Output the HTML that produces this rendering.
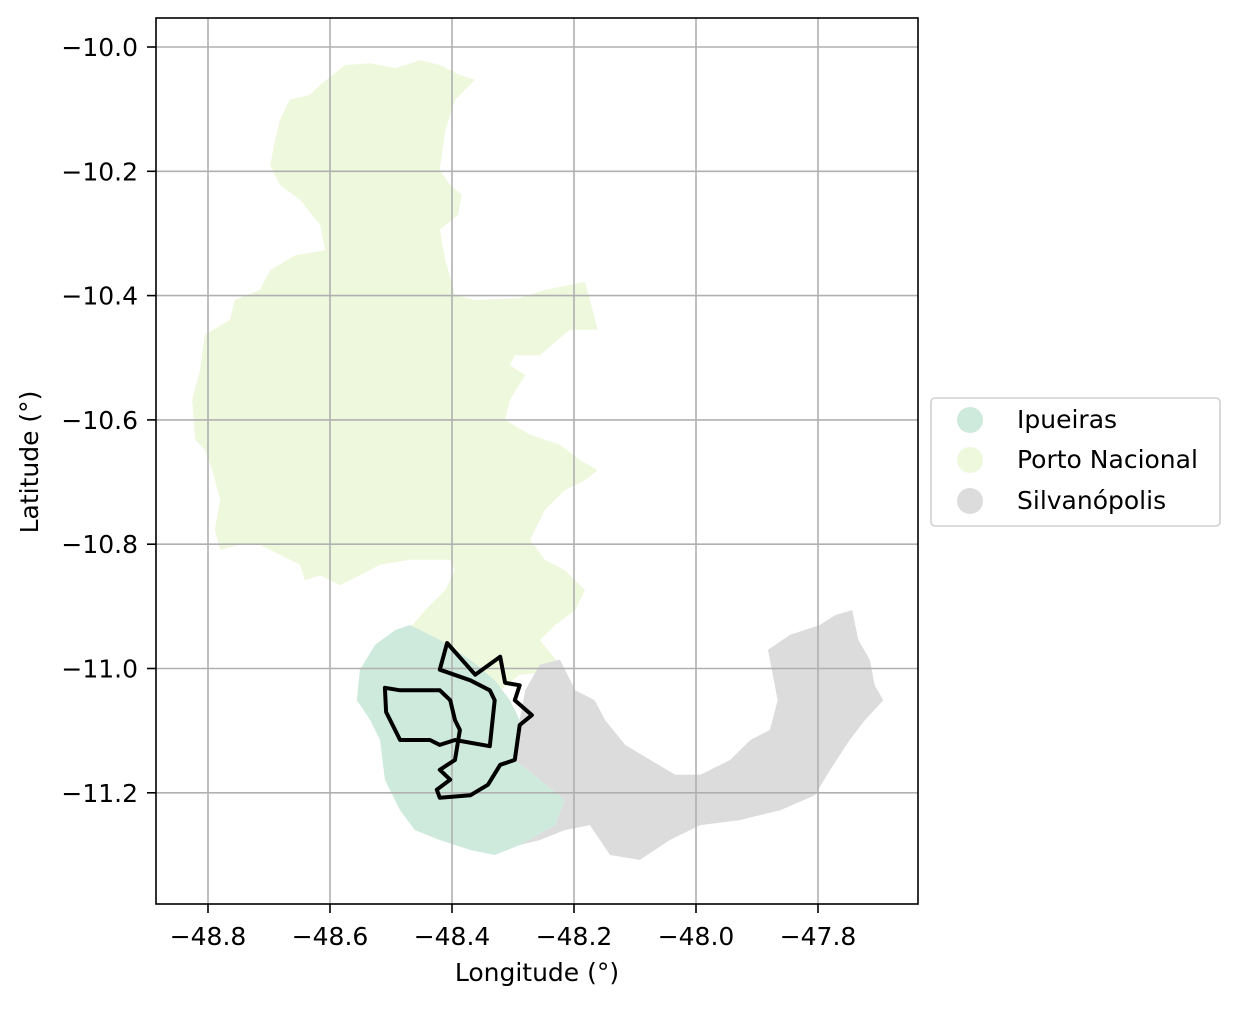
<!DOCTYPE html>
<html><head><meta charset="utf-8">
<style>
body{margin:0;background:#fff;}
svg text{font-family:"DejaVu Sans","Liberation Sans",sans-serif;fill:#000;font-size:25px;}
</style></head>
<body>
<svg id="chart" width="1239" height="1006" xmlns="http://www.w3.org/2000/svg">
<rect width="1239" height="1006" fill="#fff"/>
<g id="regions"></g>
<g id="grid"></g>
<g id="outline"></g>
<rect x="156" y="18" width="762" height="886" fill="none" stroke="#000" stroke-width="1.6"/>
<g id="ticks"></g>
<text x="537" y="981" text-anchor="middle">Longitude (°)</text>
<text transform="translate(38,462) rotate(-90)" text-anchor="middle">Latitude (°)</text>
<g>
<rect x="931" y="398" width="289" height="128" rx="4" fill="#fff" stroke="#d0d0d0" stroke-width="1.6"/>
<circle cx="970" cy="420" r="13" fill="#cdeadc"/>
<text x="1017" y="428">Ipueiras</text>
<circle cx="970" cy="460" r="13" fill="#eef8dc"/>
<text x="1017" y="468">Porto Nacional</text>
<circle cx="970" cy="501" r="13" fill="#dcdcdc"/>
<text x="1017" y="509">Silvanópolis</text>
</g>
</svg>
<script>
const xTicks=[-48.8,-48.6,-48.4,-48.2,-48.0,-47.8];
const xTickLabels=["−48.8","−48.6","−48.4","−48.2","−48.0","−47.8"];
const yTicks=[-10.0,-10.2,-10.4,-10.6,-10.8,-11.0,-11.2];
const yTickLabels=["−10.0","−10.2","−10.4","−10.6","−10.8","−11.0","−11.2"];
const portoLon=[-48.575,-48.534,-48.493,-48.452,-48.420,-48.387,-48.362,-48.395,-48.411,-48.420,-48.403,-48.384,-48.390,-48.420,-48.411,-48.395,-48.362,-48.289,-48.248,-48.182,-48.174,-48.161,-48.207,-48.256,-48.297,-48.305,-48.280,-48.305,-48.313,-48.272,-48.223,-48.190,-48.161,-48.182,-48.215,-48.248,-48.272,-48.248,-48.215,-48.182,-48.198,-48.231,-48.256,-48.223,-48.248,-48.289,-48.321,-48.354,-48.403,-48.452,-48.469,-48.444,-48.411,-48.395,-48.403,-48.469,-48.518,-48.551,-48.584,-48.616,-48.641,-48.649,-48.682,-48.715,-48.748,-48.780,-48.789,-48.780,-48.793,-48.805,-48.821,-48.826,-48.813,-48.805,-48.764,-48.756,-48.715,-48.698,-48.657,-48.608,-48.616,-48.649,-48.682,-48.698,-48.690,-48.682,-48.666,-48.633,-48.616];
const portoLat=[-10.029,-10.026,-10.034,-10.021,-10.029,-10.045,-10.053,-10.085,-10.134,-10.198,-10.222,-10.238,-10.270,-10.294,-10.343,-10.399,-10.407,-10.404,-10.391,-10.378,-10.407,-10.455,-10.455,-10.496,-10.496,-10.512,-10.528,-10.568,-10.600,-10.624,-10.640,-10.665,-10.681,-10.697,-10.713,-10.745,-10.793,-10.825,-10.842,-10.874,-10.906,-10.930,-10.954,-10.994,-11.006,-11.010,-11.035,-11.002,-10.970,-10.938,-10.935,-10.906,-10.874,-10.842,-10.825,-10.825,-10.833,-10.850,-10.866,-10.850,-10.858,-10.833,-10.817,-10.801,-10.801,-10.809,-10.777,-10.729,-10.681,-10.648,-10.632,-10.568,-10.520,-10.463,-10.439,-10.407,-10.391,-10.359,-10.335,-10.327,-10.286,-10.246,-10.222,-10.190,-10.150,-10.117,-10.085,-10.077,-10.061];
const ipuLon=[-48.469,-48.420,-48.370,-48.330,-48.305,-48.289,-48.297,-48.256,-48.215,-48.231,-48.289,-48.330,-48.370,-48.420,-48.461,-48.485,-48.510,-48.518,-48.534,-48.556,-48.551,-48.526,-48.493];
const ipuLat=[-10.930,-10.954,-10.986,-11.019,-11.051,-11.083,-11.147,-11.179,-11.212,-11.252,-11.284,-11.300,-11.292,-11.276,-11.260,-11.228,-11.179,-11.115,-11.083,-11.051,-11.002,-10.962,-10.938];
const silLon=[-48.256,-48.223,-48.198,-48.166,-48.149,-48.116,-48.075,-48.034,-47.993,-47.944,-47.911,-47.879,-47.866,-47.882,-47.846,-47.797,-47.772,-47.744,-47.734,-47.715,-47.707,-47.693,-47.723,-47.748,-47.780,-47.805,-47.862,-47.928,-47.993,-48.043,-48.092,-48.141,-48.174,-48.215,-48.256,-48.289,-48.231,-48.215,-48.256,-48.297,-48.289,-48.280];
const silLat=[-10.994,-10.986,-11.035,-11.051,-11.083,-11.123,-11.147,-11.171,-11.171,-11.147,-11.115,-11.099,-11.051,-10.970,-10.946,-10.930,-10.914,-10.906,-10.954,-10.986,-11.027,-11.051,-11.083,-11.115,-11.163,-11.204,-11.228,-11.244,-11.252,-11.276,-11.308,-11.300,-11.252,-11.260,-11.276,-11.284,-11.252,-11.212,-11.179,-11.147,-11.083,-11.035];
const outLon=[-48.420,-48.408,-48.362,-48.321,-48.313,-48.289,-48.297,-48.269,-48.289,-48.297,-48.321,-48.341,-48.370,-48.420,-48.425,-48.403,-48.420,-48.395,-48.387,-48.395,-48.403,-48.420,-48.485,-48.510,-48.508,-48.485,-48.436,-48.420,-48.395,-48.338,-48.330,-48.338,-48.370];
const outLat=[-11.002,-10.959,-11.010,-10.981,-11.023,-11.027,-11.051,-11.075,-11.091,-11.147,-11.155,-11.187,-11.204,-11.208,-11.195,-11.179,-11.163,-11.147,-11.099,-11.083,-11.051,-11.035,-11.035,-11.031,-11.070,-11.115,-11.115,-11.123,-11.115,-11.125,-11.051,-11.035,-11.019];

const NS="http://www.w3.org/2000/svg";
function X(lon){return 208+(lon+48.8)*610;}
function Y(lat){return 47+(-10-lat)*621.5;}
function pts(lo,la){return lo.map((v,i)=>X(v).toFixed(1)+","+Y(la[i]).toFixed(1)).join(" ");}
function mk(t,a,p){const e=document.createElementNS(NS,t);for(const k in a)e.setAttribute(k,a[k]);p.appendChild(e);return e;}
const reg=document.getElementById('regions');
let e;
e=mk('polygon',{points:pts(portoLon,portoLat),fill:'#eef8dc'},reg);


e=mk('polygon',{points:pts(silLon,silLat),fill:'#dcdcdc'},reg);


e=mk('polygon',{points:pts(ipuLon,ipuLat),fill:'#cdeadc'},reg);


const g=document.getElementById('grid'),tk=document.getElementById('ticks');
xTicks.forEach((v,i)=>{const x=X(v);
 e=mk('line',{x1:x,x2:x,y1:18,y2:904,stroke:'#b0b0b0','stroke-width':1.6},g);
 
 
 mk('line',{x1:x,x2:x,y1:904,y2:913,stroke:'#000','stroke-width':1.6},tk);
 e=mk('text',{x:x,y:945,'text-anchor':'middle'},tk);e.textContent=xTickLabels[i];
 
 
});
yTicks.forEach((v,i)=>{const y=Y(v);
 e=mk('line',{x1:156,x2:918,y1:y,y2:y,stroke:'#b0b0b0','stroke-width':1.6},g);
 
 
 mk('line',{x1:147,x2:156,y1:y,y2:y,stroke:'#000','stroke-width':1.6},tk);
 e=mk('text',{x:138,y:y+9,'text-anchor':'end'},tk);e.textContent=yTickLabels[i];
 
 
});
e=mk('polygon',{points:pts(outLon,outLat),fill:'none',stroke:'#000','stroke-width':4,'stroke-linejoin':'round'},document.getElementById('outline'));


</script>
</body></html>
